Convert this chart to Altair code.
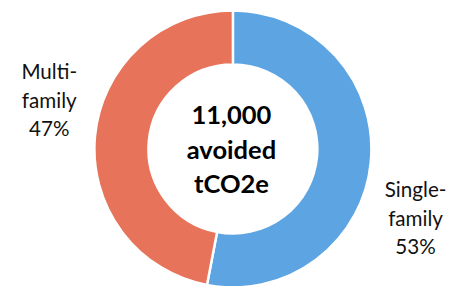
import altair as alt
import pandas as pd

categories = ["Single-family", "Multi-family"]
shares = [53, 47]
label_lines = ["Single-\nfamily", "Multi-\nfamily"]
colors = ["#5CA4E2", "#E6735A"]
center_text = "11,000\navoided\ntCO2e"

df = pd.DataFrame({
    "category": categories,
    "value": shares,
    "order": list(range(len(categories))),
    "label": [f"{l}\n{s}%" for l, s in zip(label_lines, shares)],
})

arc = alt.Chart(df).mark_arc(
    outerRadius=141, innerRadius=86, stroke="white", strokeWidth=2.5
).encode(
    theta=alt.Theta("value:Q", stack=True),
    color=alt.Color("category:N", scale=alt.Scale(domain=categories, range=colors), legend=None),
    order=alt.Order("order:Q"),
    x=alt.value(229),
    y=alt.value(141),
)

text_style = dict(font="Lato", fontSize=21, lineHeight=29, align="center",
                  baseline="middle", lineBreak="\n", color="#111111")

single_label = alt.Chart(df[df.category == "Single-family"]).mark_text(**text_style).encode(
    text="label:N", x=alt.value(415), y=alt.value(184))
multi_label = alt.Chart(df[df.category == "Multi-family"]).mark_text(**text_style).encode(
    text="label:N", x=alt.value(42), y=alt.value(64))

center = alt.Chart(pd.DataFrame({"t": [center_text]})).mark_text(
    font="Lato", fontSize=26, fontWeight="bold", lineHeight=35, align="center",
    baseline="middle", lineBreak="\n", color="#000000"
).encode(text="t:N", x=alt.value(227.5), y=alt.value(108))

chart = alt.layer(arc, single_label, multi_label, center).properties(
    width=448, height=278, padding=0, autosize=alt.AutoSizeParams(type="none")
).configure_view(stroke=None)

chart.save("out.html", embed_options={"renderer": "svg", "actions": False})
